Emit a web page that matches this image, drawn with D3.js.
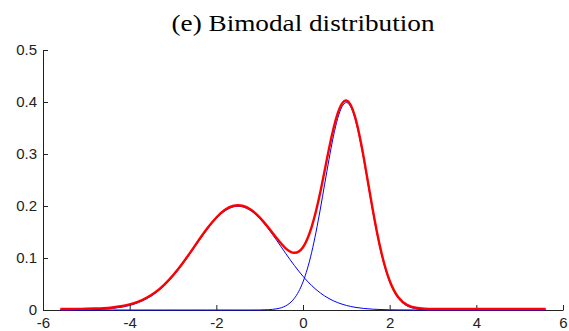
<!DOCTYPE html>
<html>
<head>
<meta charset="utf-8">
<script src="https://cdn.jsdelivr.net/npm/d3@7/dist/d3.min.js"></script>
<style>
  body { margin: 0; background: #fff; }
  svg { display: block; }
  .tick text { font-family: "Liberation Sans", Arial, sans-serif; font-size: 15px; fill: #222; }
</style>
</head>
<body>
<div id="chart"></div>
<script>
// sample positions along x
var xs = [-5.6,-5.4,-5.2,-5.0,-4.8,-4.6,-4.4,-4.2,-4.0,-3.8,-3.6,-3.4,-3.2,-3.0,-2.8,-2.6,-2.4,-2.2,-2.0,-1.8,
          -1.6,-1.4,-1.2,-1.0,-0.8,-0.6,-0.4,-0.2,0.0,0.2,0.4,0.6,0.8,1.0,1.2,1.4,1.6,1.8,2.0,2.2,
          2.4,2.6,2.8,3.0,3.2,3.4,3.6,3.8,4.0,4.2,4.4,4.6,4.8,5.0,5.2,5.4,5.6];

// left component (blue)
var comp1 = [0.0000,0.0001,0.0002,0.0004,0.0009,0.0016,0.0030,0.0052,0.0088,0.0142,0.0220,0.0328,0.0470,0.0648,0.0857,0.1089,0.1331,0.1561,0.1760,0.1907,
             0.1985,0.1985,0.1907,0.1760,0.1561,0.1331,0.1089,0.0857,0.0648,0.0470,0.0328,0.0220,0.0142,0.0088,0.0052,0.0030,0.0016,0.0009,0.0004,0.0002,
             0.0001,0,0,0,0,0,0,0,0,0,0,0,0,0,0,0,0];

// right component (blue)
var comp2 = [0,0,0,0,0,0,0,0,0,0,0,0,0,0,0,0,0,0,0,0,
             0,0,0,0.0001,0.0006,0.0024,0.0079,0.0224,0.0540,0.1109,0.1942,0.2897,0.3683,0.3989,0.3683,0.2897,0.1942,0.1109,0.0540,0.0224,
             0.0079,0.0024,0.0006,0.0001,0,0,0,0,0,0,0,0,0,0,0,0,0];

// mixture (red)
var mixture = [0.0000,0.0001,0.0002,0.0004,0.0009,0.0016,0.0030,0.0052,0.0088,0.0142,0.0220,0.0328,0.0470,0.0648,0.0857,0.1089,0.1331,0.1561,0.1760,0.1907,
               0.1985,0.1985,0.1907,0.1761,0.1567,0.1355,0.1168,0.1081,0.1188,0.1579,0.2250,0.3080,0.3760,0.4010,0.3700,0.2920,0.1958,0.1118,0.0544,0.0226,
               0.0080,0.0024,0.0006,0.0001,0,0,0,0,0,0,0,0,0,0,0,0,0];

var xTicks = [-6,-4,-2,0,2,4,6];
var yTicks = [0,0.1,0.2,0.3,0.4,0.5];
var title = "(e) Bimodal distribution";

var W = 569, H = 331;
var margin = {top: 50, right: 6, bottom: 21, left: 43};
var width = W - margin.left - margin.right;
var height = H - margin.top - margin.bottom;

var svg = d3.select("#chart").append("svg")
    .attr("width", W)
    .attr("height", H);

var g = svg.append("g")
    .attr("transform", "translate(" + margin.left + "," + margin.top + ")");

var x = d3.scaleLinear().domain([-6, 6]).range([0, width]);
var y = d3.scaleLinear().domain([0, 0.5]).range([height, 0]);

// axes, matlab style: ticks pointing inward, plain hyphen for minus
var xAxis = g.append("g")
    .attr("transform", "translate(0," + height + ")")
    .call(d3.axisBottom(x).tickValues(xTicks).tickFormat(function(d) { return String(d); })
        .tickSizeInner(-5).tickSizeOuter(0).tickPadding(7));

var yAxis = g.append("g")
    .call(d3.axisLeft(y).tickValues(yTicks).tickFormat(function(d) { return d === 0 ? "0" : d.toFixed(1); })
        .tickSizeInner(-5).tickSizeOuter(0).tickPadding(6));

g.selectAll(".domain").attr("stroke", "#222");
g.selectAll(".tick line").attr("stroke", "#222");

var line = function(vals) {
    return d3.line()
        .x(function(d, i) { return x(xs[i]); })
        .y(function(d) { return y(d); })
        .curve(d3.curveNatural)(vals);
};

g.append("path")
    .attr("d", line(comp1))
    .attr("fill", "none")
    .attr("stroke", "#0000ff")
    .attr("stroke-width", 1);

g.append("path")
    .attr("d", line(comp2))
    .attr("fill", "none")
    .attr("stroke", "#0000ff")
    .attr("stroke-width", 1);

g.append("path")
    .attr("d", line(mixture))
    .attr("transform", "translate(0,-1)")
    .attr("fill", "none")
    .attr("stroke", "#ff0000")
    .attr("stroke-width", 2.4);

svg.append("text")
    .attr("x", margin.left + width / 2)
    .attr("y", 31)
    .attr("text-anchor", "middle")
    .attr("textLength", 263)
    .attr("lengthAdjust", "spacingAndGlyphs")
    .style("font-family", "'Liberation Serif', 'Times New Roman', serif")
    .style("font-size", "24px")
    .style("fill", "#000")
    .text(title);
</script>
</body>
</html>
